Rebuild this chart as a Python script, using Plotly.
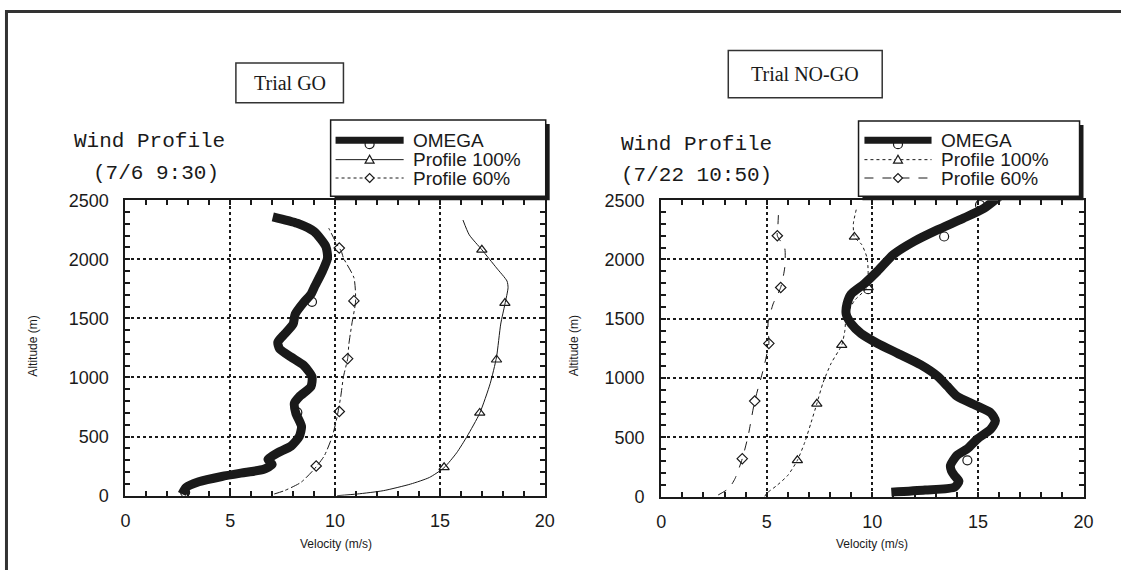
import plotly.graph_objects as go

W, H = 1131, 580

# ---------------- data: Trial GO (7/6 9:30) ----------------
go_omega_alt = [14, 70, 117, 162, 196, 223, 265, 307, 363, 419, 503, 587, 698, 782, 838, 922, 1006,
                1103, 1173, 1243, 1299, 1369, 1452, 1536, 1634, 1704, 1760, 1900, 2011, 2109, 2235, 2305, 2360]
go_omega_vel = [2.7, 2.9, 3.5, 4.6, 5.7, 6.6, 7.0, 6.8, 7.27, 7.9, 8.3, 8.4, 8.13, 8.06, 8.3, 8.85, 8.9,
                8.5, 7.9, 7.35, 7.27, 7.6, 8.0, 8.1, 8.5, 8.85, 9.0, 9.4, 9.64, 9.56, 9.0, 8.2, 7.03]
go_omega_mk_alt = [28, 704, 1640]
go_omega_mk_vel = [2.85, 8.2, 8.9]

go_p100_alt = [0, 14, 42, 98, 154, 237, 363, 503, 698, 950, 1173, 1452, 1620, 1760, 1816, 1927, 2081, 2207, 2332]
go_p100_vel = [10.1, 11.06, 12.3, 13.6, 14.5, 15.2, 15.8, 16.3, 16.9, 17.4, 17.7, 17.9, 18.1, 18.25, 18.2, 17.7, 17.0, 16.4, 16.1]
go_p100_mk_alt = [240, 700, 1150, 1630, 2080]
go_p100_mk_vel = [15.2, 16.9, 17.7, 18.1, 17.0]

go_p60_alt = [14, 42, 112, 223, 335, 503, 670, 838, 1006, 1159, 1285, 1452, 1648, 1844, 2011, 2067, 2123, 2263]
go_p60_vel = [7.1, 7.58, 8.37, 9.0, 9.48, 9.87, 10.1, 10.27, 10.4, 10.6, 10.66, 10.8, 10.98, 10.9, 10.4, 10.3, 10.1, 9.7]
go_p60_mk_alt = [251, 712, 1159, 1648, 2095]
go_p60_mk_vel = [9.1, 10.2, 10.6, 10.9, 10.2]

# ---------------- data: Trial NO-GO (7/22 10:50) ----------------
ng_omega_alt = [36, 55, 80, 130, 175, 215, 264, 347, 403, 486, 569, 639, 708, 764, 847, 931, 1014, 1111, 1208,
                1292, 1375, 1458, 1542, 1625, 1708, 1792, 1903, 2042, 2153, 2250, 2347, 2431, 2530]
ng_omega_vel = [10.9, 12.5, 13.9, 14.1, 13.9, 13.75, 13.7, 14.0, 14.5, 14.97, 15.6, 15.83, 15.6, 14.97, 14.0, 13.55, 13.1,
                12.3, 11.2, 10.25, 9.47, 9.0, 8.76, 8.8, 9.0, 9.6, 10.25, 11.0, 11.98, 13.08, 14.3, 15.28, 16.0]
ng_omega_mk_alt = [306, 1750, 2194, 2460]
ng_omega_mk_vel = [14.5, 9.8, 13.4, 15.1]

ng_p100_alt = [0, 28, 97, 180, 306, 458, 625, 783, 958, 1125, 1278, 1403, 1514, 1653, 1764, 1903, 2014, 2125, 2190, 2300, 2430]
ng_p100_vel = [4.9, 5.0, 5.5, 6.0, 6.45, 6.8, 7.1, 7.37, 7.66, 8.05, 8.55, 8.7, 8.76, 9.15, 9.75, 9.8, 9.75, 9.5, 9.15, 9.1, 9.25]
ng_p100_mk_alt = [306, 783, 1278, 1764, 2190]
ng_p100_mk_vel = [6.45, 7.37, 8.55, 9.8, 9.15]

ng_p60_alt = [14, 69, 153, 320, 514, 806, 1069, 1292, 1458, 1625, 1764, 1931, 2097, 2200, 2292, 2417]
ng_p60_vel = [2.7, 3.2, 3.5, 3.84, 4.12, 4.43, 4.83, 5.1, 5.06, 5.3, 5.66, 5.85, 5.85, 5.5, 5.53, 5.56]
ng_p60_mk_alt = [320, 806, 1292, 1764, 2200]
ng_p60_mk_vel = [3.84, 4.43, 5.1, 5.66, 5.5]

x_ticks = [0, 5, 10, 15, 20]
y_ticks = [0, 500, 1000, 1500, 2000, 2500]
series_names = ["OMEGA", "Profile 100%", "Profile 60%"]

# ---------------- styles ----------------
INK = "#1a1a1a"
SANS = "Liberation Sans, Arial, sans-serif"
MONO = "Liberation Mono, Courier New, monospace"
SERIF = "Liberation Serif, Times New Roman, serif"


def px(x):
    return x / W


def py(y):
    return 1 - y / H


fig = go.Figure()

panels = [
    dict(xa="x", ya="y",
         omega=(go_omega_vel, go_omega_alt, go_omega_mk_vel, go_omega_mk_alt),
         p100=(go_p100_vel, go_p100_alt, go_p100_mk_vel, go_p100_mk_alt),
         p60=(go_p60_vel, go_p60_alt, go_p60_mk_vel, go_p60_mk_alt),
         dash100="solid", dash60="dashdot"),
    dict(xa="x2", ya="y2",
         omega=(ng_omega_vel, ng_omega_alt, ng_omega_mk_vel, ng_omega_mk_alt),
         p100=(ng_p100_vel, ng_p100_alt, ng_p100_mk_vel, ng_p100_mk_alt),
         p60=(ng_p60_vel, ng_p60_alt, ng_p60_mk_vel, ng_p60_mk_alt),
         dash100="dot", dash60="dash"),
]

for p in panels:
    for key, dash, width, sym, msize in [("p60", p["dash60"], 1, "diamond-open", 8),
                                         ("p100", p["dash100"], 1, "triangle-up-open", 9),
                                         ("omega", "solid", 9, "circle-open", 9)]:
        xv, yv, mx, my = p[key]
        fig.add_trace(go.Scatter(x=xv, y=yv, mode="lines", xaxis=p["xa"], yaxis=p["ya"],
                                 line=dict(color=INK, width=width, dash=dash, shape="spline", smoothing=0.6),
                                 showlegend=False, hoverinfo="skip"))
        fig.add_trace(go.Scatter(x=mx, y=my, mode="markers", xaxis=p["xa"], yaxis=p["ya"],
                                 marker=dict(symbol=sym, size=msize, color=INK, line=dict(width=1.2, color=INK)),
                                 showlegend=False, hoverinfo="skip"))

axis_common = dict(showline=True, linecolor=INK, linewidth=2, mirror="ticks",
                   ticks="inside", ticklen=5, tickwidth=1.5, tickcolor=INK,
                   showgrid=True, gridcolor=INK, gridwidth=1.5, griddash="dot",
                   zeroline=False, tickfont=dict(family=SANS, size=18, color=INK))
xaxis_cfg = dict(axis_common, range=[0, 20], tickvals=x_ticks, ticklabelstandoff=8,
                 minor=dict(dtick=1, ticks="inside", ticklen=5, tickcolor=INK, showgrid=False))
yaxis_cfg = dict(axis_common, range=[0, 2500], tickvals=y_ticks, ticklabelstandoff=11,
                 minor=dict(dtick=100, ticks="inside", ticklen=5, tickcolor=INK, showgrid=False))

fig.update_layout(
    width=W, height=H, margin=dict(l=0, r=0, t=0, b=0),
    paper_bgcolor="white", plot_bgcolor="white", showlegend=False,
    xaxis=dict(xaxis_cfg, domain=[px(122), px(547)], anchor="y"),
    yaxis=dict(yaxis_cfg, domain=[py(503), py(197)], anchor="x"),
    xaxis2=dict(xaxis_cfg, domain=[px(665), px(1093)], anchor="y2"),
    yaxis2=dict(yaxis_cfg, domain=[py(504), py(197)], anchor="x2"),
)

shapes = []
annotations = []

# outer border (top and left visible)
shapes.append(dict(type="line", xref="paper", yref="paper", x0=0, x1=1, y0=py(1.5), y1=py(1.5),
                   line=dict(color="#333", width=3)))
shapes.append(dict(type="line", xref="paper", yref="paper", x0=px(1.5), x1=px(1.5), y0=1, y1=0,
                   line=dict(color="#333", width=3)))

# Trial boxes
for (x0, x1, y0, y1, txt) in [(234, 343, 55, 96, "Trial GO"), (733, 889, 42, 91, "Trial NO-GO")]:
    shapes.append(dict(type="rect", xref="paper", yref="paper", x0=px(x0), x1=px(x1), y0=py(y1), y1=py(y0),
                       line=dict(color="#333", width=1.5), fillcolor="white"))
    annotations.append(dict(text=txt, xref="paper", yref="paper", x=px((x0 + x1) / 2), y=py((y0 + y1) / 2),
                            showarrow=False, font=dict(family=SERIF, size=20, color=INK),
                            xanchor="center", yanchor="middle"))

# Wind profile titles
for (x, y, txt) in [(68, 136, "Wind Profile"), (87, 169, "(7/6 9:30)"),
                    (622, 139, "Wind Profile"), (622, 171, "(7/22 10:50)")]:
    annotations.append(dict(text=txt, xref="paper", yref="paper", x=px(x), y=py(y), showarrow=False,
                            xanchor="left", yanchor="middle", font=dict(family=MONO, size=21, color=INK)))

# axis titles
for (xc, yc) in [(335, 553), (879, 553)]:
    annotations.append(dict(text="Velocity (m/s)", xref="paper", yref="paper", x=px(xc), y=py(yc),
                            xanchor="center", yanchor="middle",
                            showarrow=False, font=dict(family=SANS, size=12, color=INK)))
for (xc, yc) in [(28, 348), (577, 348)]:
    annotations.append(dict(text="Altitude (m)", xref="paper", yref="paper", x=px(xc), y=py(yc), textangle=-90,
                            xanchor="center", yanchor="middle",
                            showarrow=False, font=dict(family=SANS, size=12, color=INK)))


# legends (manual)
def tri(cx, cy):
    return dict(type="path", xref="paper", yref="paper", xsizemode="pixel", ysizemode="pixel",
                xanchor=px(cx), yanchor=py(cy), path="M -4.5,-3.5 L 4.5,-3.5 L 0,4.5 Z",
                line=dict(color=INK, width=1.2), fillcolor="white")


def dia(cx, cy):
    return dict(type="path", xref="paper", yref="paper", xsizemode="pixel", ysizemode="pixel",
                xanchor=px(cx), yanchor=py(cy), path="M 0,-4.5 L 4.5,0 L 0,4.5 L -4.5,0 Z",
                line=dict(color=INK, width=1.2), fillcolor="white")


def circ(cx, cy):
    return dict(type="circle", xref="paper", yref="paper", xsizemode="pixel", ysizemode="pixel",
                xanchor=px(cx), yanchor=py(cy), x0=-4.5, x1=4.5, y0=-4.5, y1=4.5,
                line=dict(color=INK, width=1.2), fillcolor="white")


legends = [
    dict(box=(330, 548, 114, 193), line=(335, 404), tx=411, rows=(135, 155, 174),
         dash100="solid", dash60="dot"),
    dict(box=(865, 1089, 115, 193), line=(871, 939), tx=947, rows=(135, 155, 174),
         dash100="dot", dash60="dash"),
]
for lg in legends:
    bx0, bx1, by0, by1 = lg["box"]
    shapes.append(dict(type="rect", xref="paper", yref="paper", x0=px(bx0 + 4), x1=px(bx1 + 4),
                       y0=py(by1 + 4), y1=py(by0 + 4), line=dict(width=0), fillcolor=INK))
    shapes.append(dict(type="rect", xref="paper", yref="paper", x0=px(bx0), x1=px(bx1),
                       y0=py(by1), y1=py(by0), line=dict(color=INK, width=1.5), fillcolor="white"))
    lx0, lx1 = lg["line"]
    cx = (lx0 + lx1) / 2
    r0, r1, r2 = lg["rows"]
    shapes.append(circ(cx, r0 + 4))
    shapes.append(dict(type="line", xref="paper", yref="paper", x0=px(lx0), x1=px(lx1), y0=py(r0), y1=py(r0),
                       line=dict(color=INK, width=7)))
    shapes.append(dict(type="line", xref="paper", yref="paper", x0=px(lx0), x1=px(lx1), y0=py(r1), y1=py(r1),
                       line=dict(color=INK, width=1, dash=lg["dash100"])))
    shapes.append(tri(cx, r1))
    shapes.append(dict(type="line", xref="paper", yref="paper", x0=px(lx0), x1=px(lx1), y0=py(r2), y1=py(r2),
                       line=dict(color=INK, width=1, dash=lg["dash60"])))
    shapes.append(dia(cx, r2))
    for name, ry in zip(series_names, lg["rows"]):
        annotations.append(dict(text=name, xref="paper", yref="paper", x=px(lg["tx"]), y=py(ry),
                                xanchor="left", yanchor="middle", showarrow=False,
                                font=dict(family=SANS, size=19, color=INK)))

fig.update_layout(shapes=shapes, annotations=annotations)
fig.write_html("out.html", config={"displayModeBar": False},
               post_script="document.body.style.margin='0';document.body.style.overflow='hidden';")
